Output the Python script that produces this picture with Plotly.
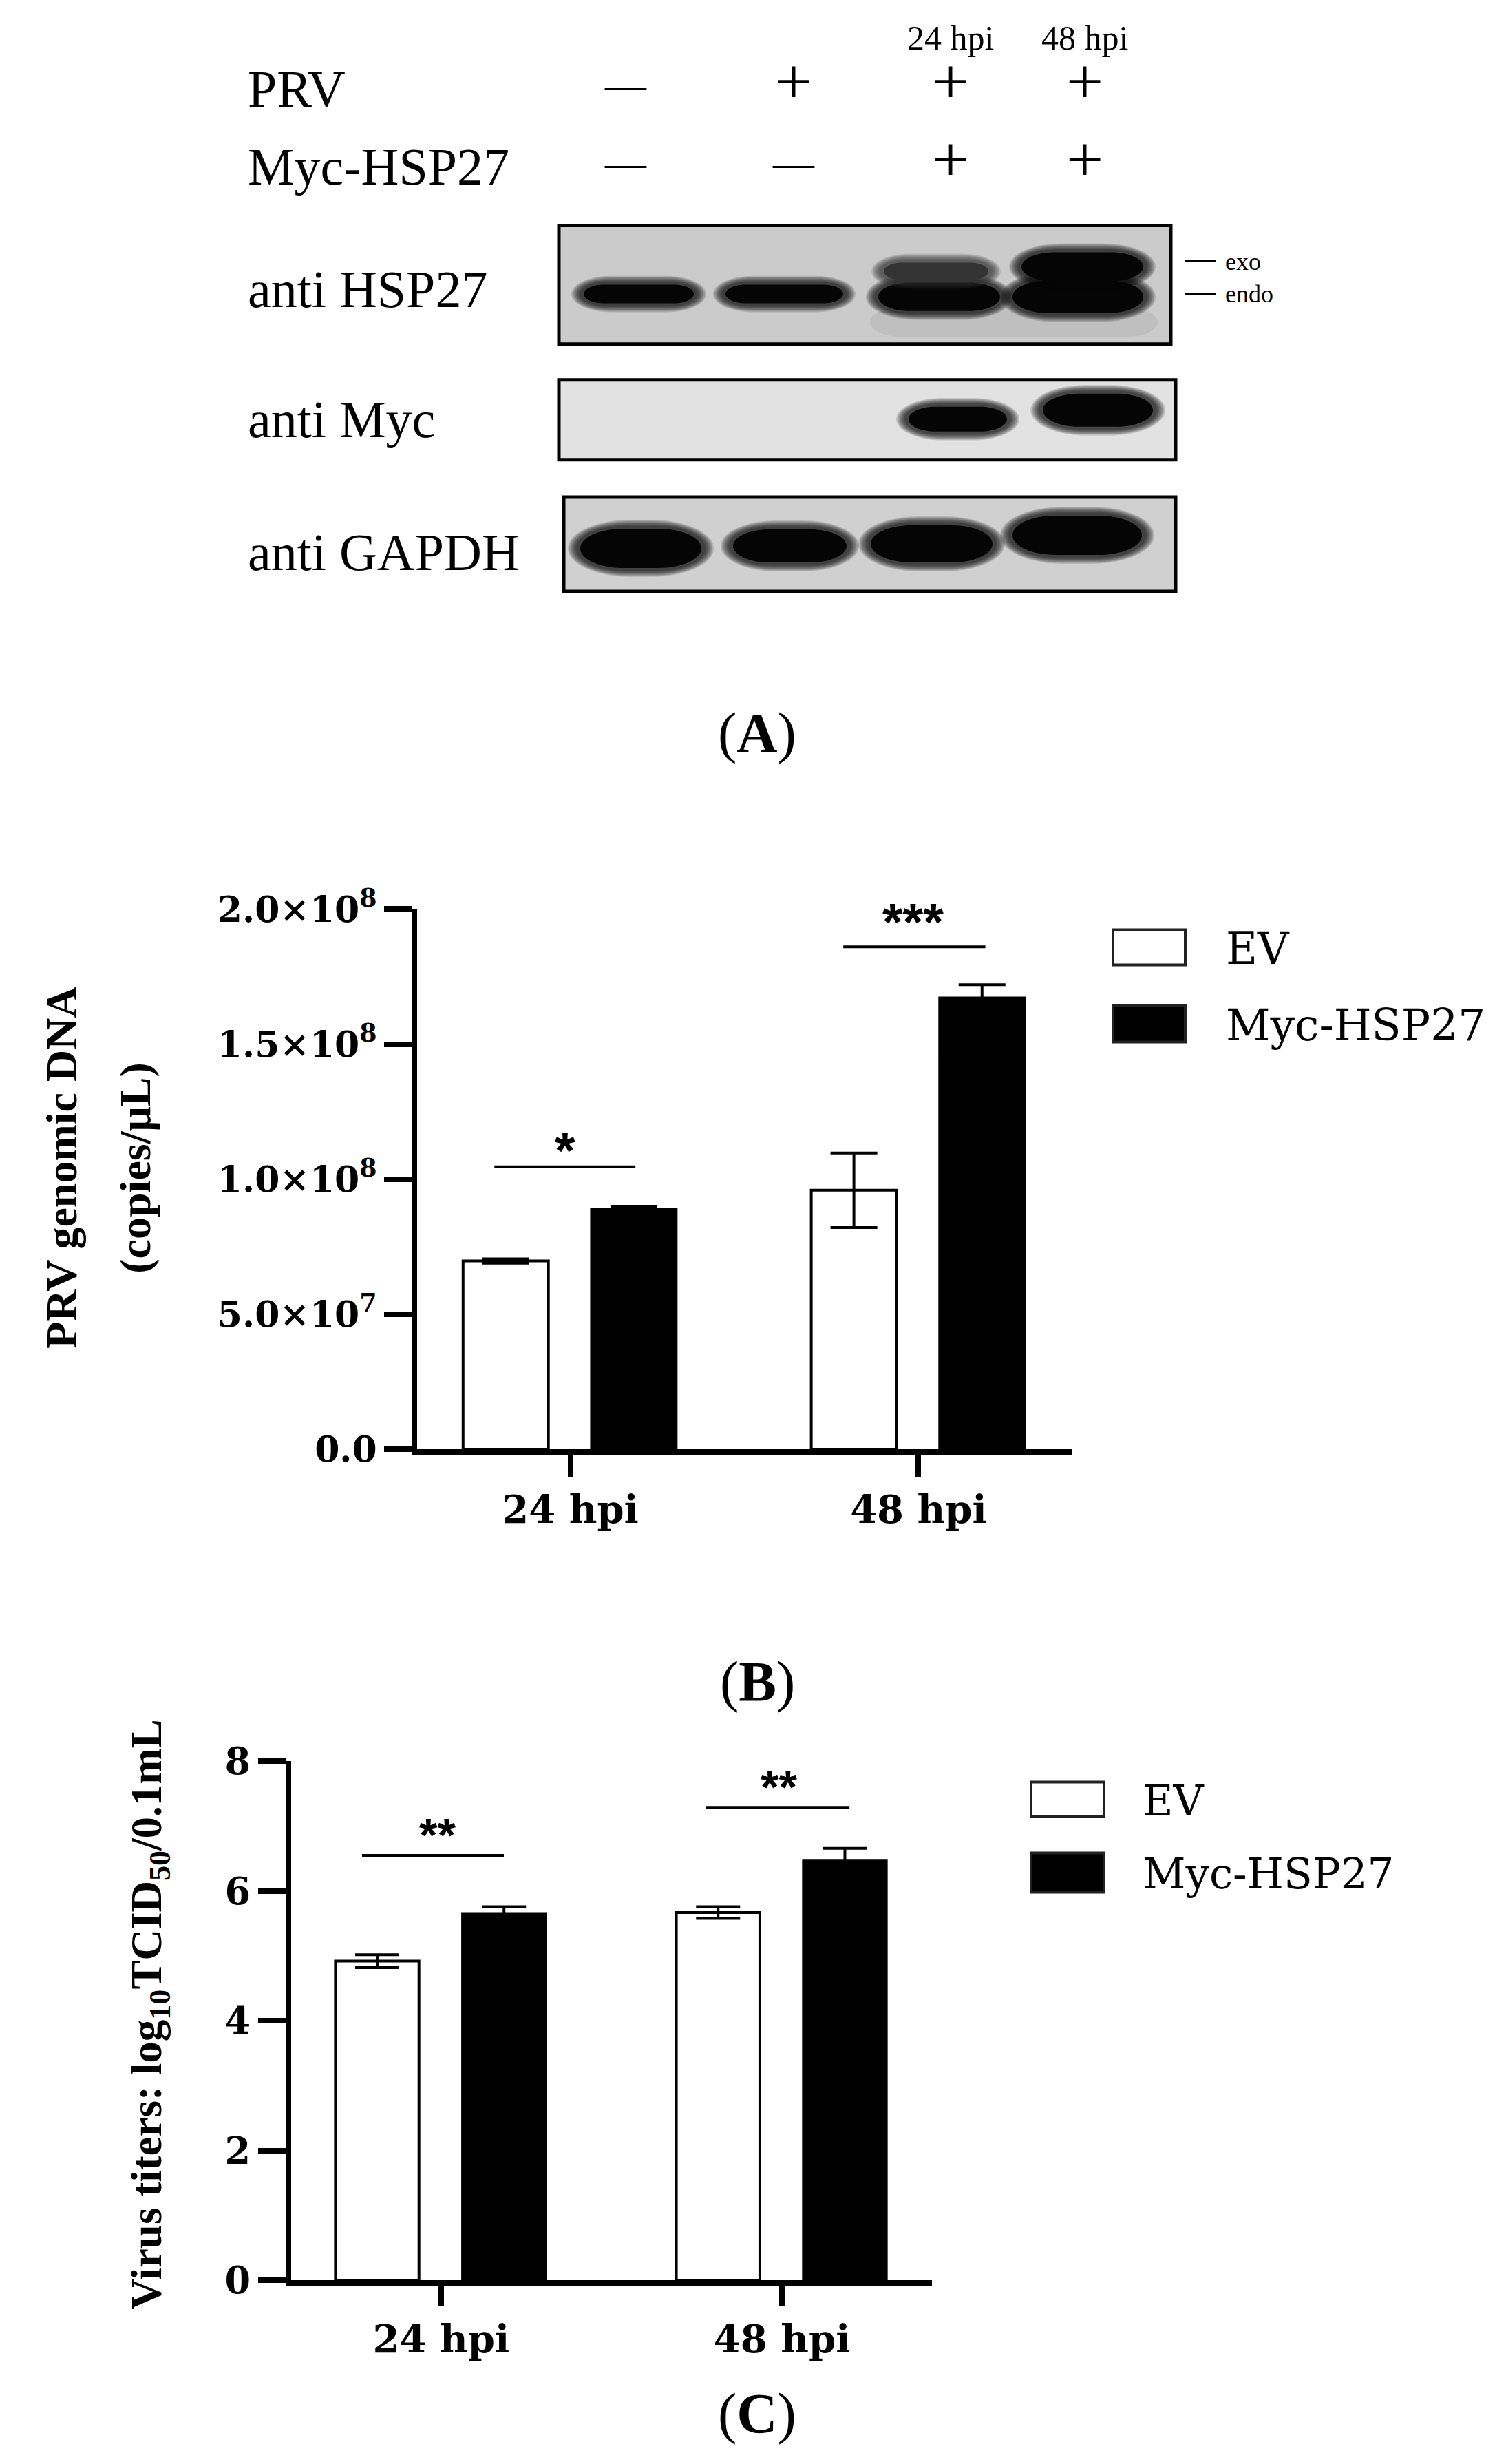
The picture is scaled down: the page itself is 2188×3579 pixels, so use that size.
import plotly.graph_objects as go

W, H = 2188, 3579

# ---------------- data ----------------
categories = ["24 hpi", "48 hpi"]
series_names = ["EV", "Myc-HSP27"]

# Panel B: PRV genomic DNA (copies/uL)
b_ev = [6.97e7, 9.59e7]
b_ev_err = [8e5, 1.38e7]
b_myc = [8.90e7, 1.672e8]
b_myc_err = [1.0e6, 4.8e6]
b_sig = ["*", "***"]
b_sig_level = [1.046e8, 1.86e8]
b_ticks = [0, 5e7, 1e8, 1.5e8, 2e8]
b_ticktext = ["0.0", "5.0×10<sup>7</sup>", "1.0×10<sup>8</sup>", "1.5×10<sup>8</sup>", "2.0×10<sup>8</sup>"]

# Panel C: virus titers log10 TCID50/0.1mL
c_ev = [4.92, 5.67]
c_ev_err = [0.10, 0.09]
c_myc = [5.66, 6.48]
c_myc_err = [0.10, 0.18]
c_sig = ["**", "**"]
c_sig_level = [6.55, 7.29]
c_ticks = [0, 2, 4, 6, 8]

# Panel A: western blot annotations
lane_time = ["", "", "24 hpi", "48 hpi"]
prv_signs = ["—", "+", "+", "+"]
myc_signs = ["—", "—", "+", "+"]
blot_rows = ["anti HSP27", "anti Myc", "anti GAPDH"]

SERIF = "Liberation Serif"
WIDE = "DejaVu Serif"
SANS = "Liberation Sans"


def px(x):
    return (x - 6) / W


def py(y):
    return 1 - ((y - 48.7) / 0.9796) / H


fig = go.Figure()

bar_w = 0.245
# ---------------- Panel B ----------------
fig.add_trace(go.Bar(
    x=categories, y=b_ev, name=series_names[0], xaxis="x", yaxis="y",
    offset=-0.308, width=bar_w,
    marker=dict(color="white", line=dict(color="black", width=4)),
    error_y=dict(type="data", array=b_ev_err, visible=True, color="black", thickness=4, width=34),
    showlegend=False))
fig.add_trace(go.Bar(
    x=categories, y=b_myc, name=series_names[1], xaxis="x", yaxis="y",
    offset=0.060, width=bar_w,
    marker=dict(color="black", line=dict(color="black", width=3)),
    error_y=dict(type="data", array=b_myc_err, visible=True, color="black", thickness=4, width=34),
    showlegend=False))

# ---------------- Panel C ----------------
fig.add_trace(go.Bar(
    x=categories, y=c_ev, name=series_names[0], xaxis="x2", yaxis="y2",
    offset=-0.31, width=bar_w,
    marker=dict(color="white", line=dict(color="black", width=4)),
    error_y=dict(type="data", array=c_ev_err, visible=True, color="black", thickness=4, width=32),
    showlegend=False))
fig.add_trace(go.Bar(
    x=categories, y=c_myc, name=series_names[1], xaxis="x2", yaxis="y2",
    offset=0.062, width=bar_w,
    marker=dict(color="black", line=dict(color="black", width=3)),
    error_y=dict(type="data", array=c_myc_err, visible=True, color="black", thickness=4, width=32),
    showlegend=False))

axis_common = dict(showline=True, linecolor="black", linewidth=8, ticks="outside",
                   tickcolor="black", tickwidth=8, showgrid=False, zeroline=False)

fig.update_layout(
    width=W, height=H, margin=dict(l=0, r=0, t=0, b=0),
    paper_bgcolor="white", plot_bgcolor="white", barmode="overlay",
    xaxis=dict(domain=[px(604), px(1555)], anchor="y", type="category",
               range=[-0.44, 1.44], ticklen=32,
               tickfont=dict(family=WIDE, size=56, color="black", weight="bold"),
               **axis_common),
    yaxis=dict(domain=[py(2106), py(1322)], anchor="x", range=[0, 2e8],
               tickvals=b_ticks, ticktext=b_ticktext, ticklen=40,
               tickfont=dict(family=WIDE, size=52, color="black", weight="bold"),
               **axis_common),
    xaxis2=dict(domain=[px(421), px(1352)], anchor="y2", type="category",
                range=[-0.44, 1.44], ticklen=30,
                tickfont=dict(family=WIDE, size=56, color="black", weight="bold"),
                **axis_common),
    yaxis2=dict(domain=[py(3312), py(2559)], anchor="x2", range=[0, 8],
                tickvals=c_ticks, ticklen=40,
                tickfont=dict(family=WIDE, size=54, color="black", weight="bold"),
                **axis_common),
)

shapes = []
annotations = []

# significance lines and stars
b_sig_x = [(-0.218, 0.187), (-0.216, 0.192)]
b_star_shift = [-20, -8]
for i, (lbl, lvl) in enumerate(zip(b_sig, b_sig_level)):
    x0, x1 = b_sig_x[i]
    shapes.append(dict(type="line", xref="x", yref="y", x0=i + x0, x1=i + x1, y0=lvl, y1=lvl,
                       line=dict(color="black", width=4)))
    annotations.append(dict(xref="x", yref="y", x=i - 0.015, y=lvl, text=lbl, showarrow=False,
                            xanchor="center", yanchor="bottom", yshift=b_star_shift[i],
                            font=dict(family=SANS, size=76, color="black", weight="bold")))

c_sig_x = [(-0.232, 0.184), (-0.224, 0.198)]
for i, (lbl, lvl) in enumerate(zip(c_sig, c_sig_level)):
    x0, x1 = c_sig_x[i]
    shapes.append(dict(type="line", xref="x2", yref="y2", x0=i + x0, x1=i + x1, y0=lvl, y1=lvl,
                       line=dict(color="black", width=4)))
    annotations.append(dict(xref="x2", yref="y2", x=i - 0.01, y=lvl, text=lbl, showarrow=False,
                            xanchor="center", yanchor="bottom", yshift=-10,
                            font=dict(family=SANS, size=68, color="black", weight="bold")))

# axis titles
annotations.append(dict(xref="paper", yref="paper", x=px(88), y=py(1697), text="PRV genomic DNA",
                        textangle=-90, showarrow=False, xanchor="center", yanchor="middle",
                        font=dict(family=SERIF, size=64, color="black", weight="bold")))
annotations.append(dict(xref="paper", yref="paper", x=px(195), y=py(1698), text="(copies/μL)",
                        textangle=-90, showarrow=False, xanchor="center", yanchor="middle",
                        font=dict(family=SERIF, size=64, color="black", weight="bold")))
annotations.append(dict(xref="paper", yref="paper", x=px(216), y=py(2926),
                        text="Virus titers: log<sub>10</sub>TCID<sub>50</sub>/0.1mL",
                        textangle=-90, showarrow=False, xanchor="center", yanchor="middle",
                        font=dict(family=SERIF, size=63, color="black", weight="bold")))


# legends (manual, large swatches)
def legend(x0, x1, rows, text_x, size):
    for (name, fill, ya, yb, ty) in rows:
        shapes.append(dict(type="rect", xref="paper", yref="paper", x0=px(x0), x1=px(x1),
                           y0=py(yb), y1=py(ya), fillcolor=fill,
                           line=dict(color="#222222", width=4)))
        annotations.append(dict(xref="paper", yref="paper", x=px(text_x), y=py(ty), text=name,
                                showarrow=False, xanchor="left", yanchor="middle",
                                font=dict(family=WIDE, size=size, color="black")))


legend(1615, 1720, [(series_names[0], "white", 1352, 1403, 1380),
                    (series_names[1], "black", 1462, 1515, 1491)], 1777, 63)
legend(1496, 1602, [(series_names[0], "white", 2589, 2639, 2616),
                    (series_names[1], "black", 2692, 2749, 2722)], 1656, 61)

# panel letters
for letter, yc in [("A", 1066), ("B", 2443), ("C", 3505)]:
    annotations.append(dict(xref="paper", yref="paper", x=px(1098), y=py(yc),
                            text="(<b>%s</b>)" % letter, showarrow=False,
                            xanchor="center", yanchor="middle",
                            font=dict(family=SERIF, size=82, color="black")))

# ---------------- Panel A: western blot ----------------
lane_x = [907, 1151, 1379, 1574]
for i, t in enumerate(lane_time):
    if t:
        annotations.append(dict(xref="paper", yref="paper", x=px(lane_x[i]), y=py(58), text=t,
                                showarrow=False, xanchor="center", yanchor="middle",
                                font=dict(family=SERIF, size=50, color="black")))

row_labels = [("PRV", 132, prv_signs), ("Myc-HSP27", 245, myc_signs)]
for (lbl, yc, signs) in row_labels:
    annotations.append(dict(xref="paper", yref="paper", x=px(356), y=py(yc), text=lbl,
                            showarrow=False, xanchor="left", yanchor="middle",
                            font=dict(family=SERIF, size=76, color="black")))
    for i, s in enumerate(signs):
        if s == "+":
            annotations.append(dict(xref="paper", yref="paper", x=px(lane_x[i]), y=py(yc - 12), text="+",
                                    showarrow=False, xanchor="center", yanchor="middle",
                                    font=dict(family=SERIF, size=96, color="black")))
        else:
            annotations.append(dict(xref="paper", yref="paper", x=px(lane_x[i]), y=py(yc - 6), text="—",
                                    showarrow=False, xanchor="center", yanchor="middle",
                                    font=dict(family=SERIF, size=60, color="black")))

blot_label_y = [422, 611, 804]
for lbl, yc in zip(blot_rows, blot_label_y):
    annotations.append(dict(xref="paper", yref="paper", x=px(356), y=py(yc), text=lbl,
                            showarrow=False, xanchor="left", yanchor="middle",
                            font=dict(family=SERIF, size=76, color="black")))

boxes = [(810, 1699, 330, 502, "#cbcbcb"), (810, 1706, 554, 670, "#e2e2e2"), (817, 1706, 724, 861, "#d0d0d0")]
for (x0, x1, y0, y1, c) in boxes:
    shapes.append(dict(type="rect", xref="paper", yref="paper", x0=px(x0), x1=px(x1), y0=py(y1), y1=py(y0),
                       fillcolor=c, line=dict(width=0)))


def pill(x0, x1, y0, y1, color, opacity):
    k = 0.5523
    ry = (y1 - y0) / 2.0
    rx = min(ry * 2.2, (x1 - x0) / 2.0)
    cy = (y0 + y1) / 2.0
    pts = [
        ("M", [(x0 + rx, y0)]),
        ("L", [(x1 - rx, y0)]),
        ("C", [(x1 - rx + k * rx, y0), (x1, cy - k * ry), (x1, cy)]),
        ("C", [(x1, cy + k * ry), (x1 - rx + k * rx, y1), (x1 - rx, y1)]),
        ("L", [(x0 + rx, y1)]),
        ("C", [(x0 + rx - k * rx, y1), (x0, cy + k * ry), (x0, cy)]),
        ("C", [(x0, cy - k * ry), (x0 + rx - k * rx, y0), (x0 + rx, y0)]),
    ]
    d = ""
    for cmd, ps in pts:
        d += cmd + " " + " ".join("%.5f,%.5f" % (px(a), py(b)) for a, b in ps) + " "
    d += "Z"
    shapes.append(dict(type="path", xref="paper", yref="paper", path=d, fillcolor=color,
                       opacity=opacity, line=dict(width=0)))


def band(x0, x1, y0, y1, color="#050505", soft=14):
    n = 8
    for j in range(n):
        e = soft * (1 - j / float(n))
        pill(x0 - e, x1 + e, y0 - e * 0.7, y1 + e * 0.7, color, 0.14)
    pill(x0 + 4, x1 - 4, y0 + 3, y1 - 3, color, 1.0)


# faint smear below the transfected lanes in HSP27 panel
pill(1262, 1680, 448, 492, "#000000", 0.06)

hsp_bands = [(842, 1010, 413, 446, "#050505"), (1048, 1227, 413, 446, "#050505"),
             (1270, 1455, 410, 457, "#050505"), (1465, 1663, 407, 460, "#050505"),
             (1278, 1438, 381, 412, "#333333"), (1478, 1663, 366, 414, "#050505")]
for (x0, x1, y0, y1, c) in hsp_bands:
    band(x0, x1, y0, y1, c)

myc_bands = [(1314, 1465, 590, 632), (1509, 1677, 571, 625)]
for (x0, x1, y0, y1) in myc_bands:
    band(x0, x1, y0, y1)

gapdh_bands = [(837, 1021, 767, 830), (1059, 1232, 768, 822), (1259, 1444, 762, 822), (1465, 1661, 748, 811)]
for (x0, x1, y0, y1) in gapdh_bands:
    band(x0, x1, y0, y1)

for (x0, x1, y0, y1, c) in boxes:
    shapes.append(dict(type="rect", xref="paper", yref="paper", x0=px(x0), x1=px(x1), y0=py(y1), y1=py(y0),
                       fillcolor="rgba(0,0,0,0)", line=dict(color="black", width=5)))

# exo / endo markers
for lbl, yc in [("exo", 382), ("endo", 429)]:
    shapes.append(dict(type="line", xref="paper", yref="paper", x0=px(1720), x1=px(1764),
                       y0=py(yc), y1=py(yc), line=dict(color="black", width=3)))
    annotations.append(dict(xref="paper", yref="paper", x=px(1776), y=py(yc), text=lbl,
                            showarrow=False, xanchor="left", yanchor="middle",
                            font=dict(family=SERIF, size=36, color="black")))

fig.update_layout(shapes=shapes, annotations=annotations)
fig.write_html("out.html")
